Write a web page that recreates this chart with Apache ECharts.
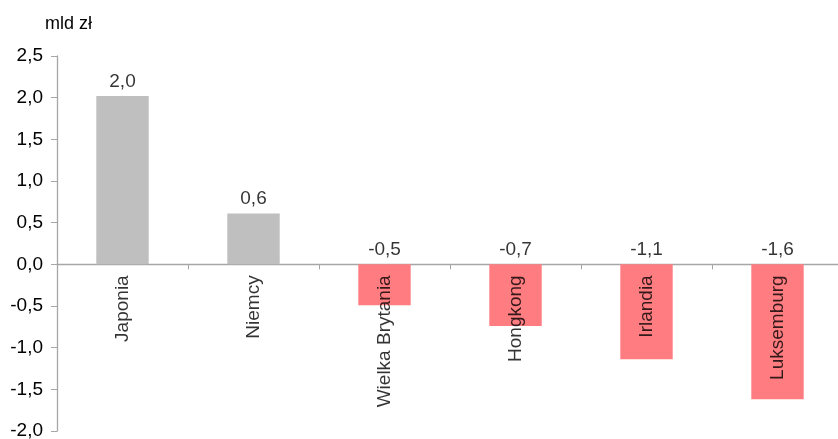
<!DOCTYPE html>
<html><head><meta charset="utf-8">
<script src="https://cdn.jsdelivr.net/npm/echarts@6/dist/echarts.min.js"></script>
<style>html,body{margin:0;padding:0;background:#fff}#c{width:838px;height:439px}</style>
</head><body><div id="c"></div>
<script>
const categories = ['Japonia','Niemcy','Wielka Brytania','Hongkong','Irlandia','Luksemburg'];
const values = [2.02, 0.61, -0.49, -0.74, -1.14, -1.62];
const yTicks = { min: -2, max: 2.5, interval: 0.5 };
const unitLabel = 'mld zł';
const posColor = '#BFBFBF', negColor = '#FF7C80';
const fmt = v => v.toFixed(1).replace('.', ',');
const FONT = '"Liberation Sans", Arial, sans-serif';
const chart = echarts.init(document.getElementById('c'), null, {renderer:'canvas'});
chart.setOption({
  animation: false,
  title: { text: unitLabel, left: 40, top: 10, textStyle: { fontFamily: FONT, fontSize: 18, fontWeight: 'normal', color: '#000' } },
  grid: { left: 57, top: 56, width: 786, height: 375, containLabel: false, outerBoundsMode: 'none' },
  xAxis: {
    type: 'category', data: categories,
    axisLine: { onZero: true, lineStyle: { color: '#a6a6a6', width: 1.3 } },
    axisTick: { show: true, length: 5, lineStyle: { color: '#a6a6a6' } },
    axisLabel: { show: false }
  },
  yAxis: {
    type: 'value', min: yTicks.min, max: yTicks.max, interval: yTicks.interval,
    splitLine: { show: false },
    axisLine: { show: true, lineStyle: { color: '#a6a6a6', width: 1.3 } },
    axisTick: { show: true, length: 6, lineStyle: { color: '#a6a6a6' } },
    axisLabel: { formatter: fmt, margin: 14, fontFamily: FONT, fontSize: 19, color: '#000' }
  },
  series: [
    {
      type: 'bar', barWidth: '40%',
      data: values.map(v => ({ value: v, itemStyle: { color: v >= 0 ? posColor : negColor } })),
      label: { show: false }
    },
    {
      type: 'scatter', symbolSize: 0, silent: true, z: 5,
      data: values.map((v, i) => [i, Math.max(v, 0)]),
      label: { show: true, position: 'top', distance: 5, formatter: p => fmt(values[p.dataIndex]), fontFamily: FONT, fontSize: 19, color: '#000' }
    },
    {
      type: 'scatter', symbolSize: 0, silent: true, z: 5,
      data: categories.map((c, i) => [i, 0]),
      label: { show: true, position: 'bottom', distance: 11, rotate: 90, align: 'right', verticalAlign: 'middle',
               formatter: p => categories[p.dataIndex], fontFamily: FONT, fontSize: 19, color: '#000' }
    }
  ]
});
</script></body></html>
